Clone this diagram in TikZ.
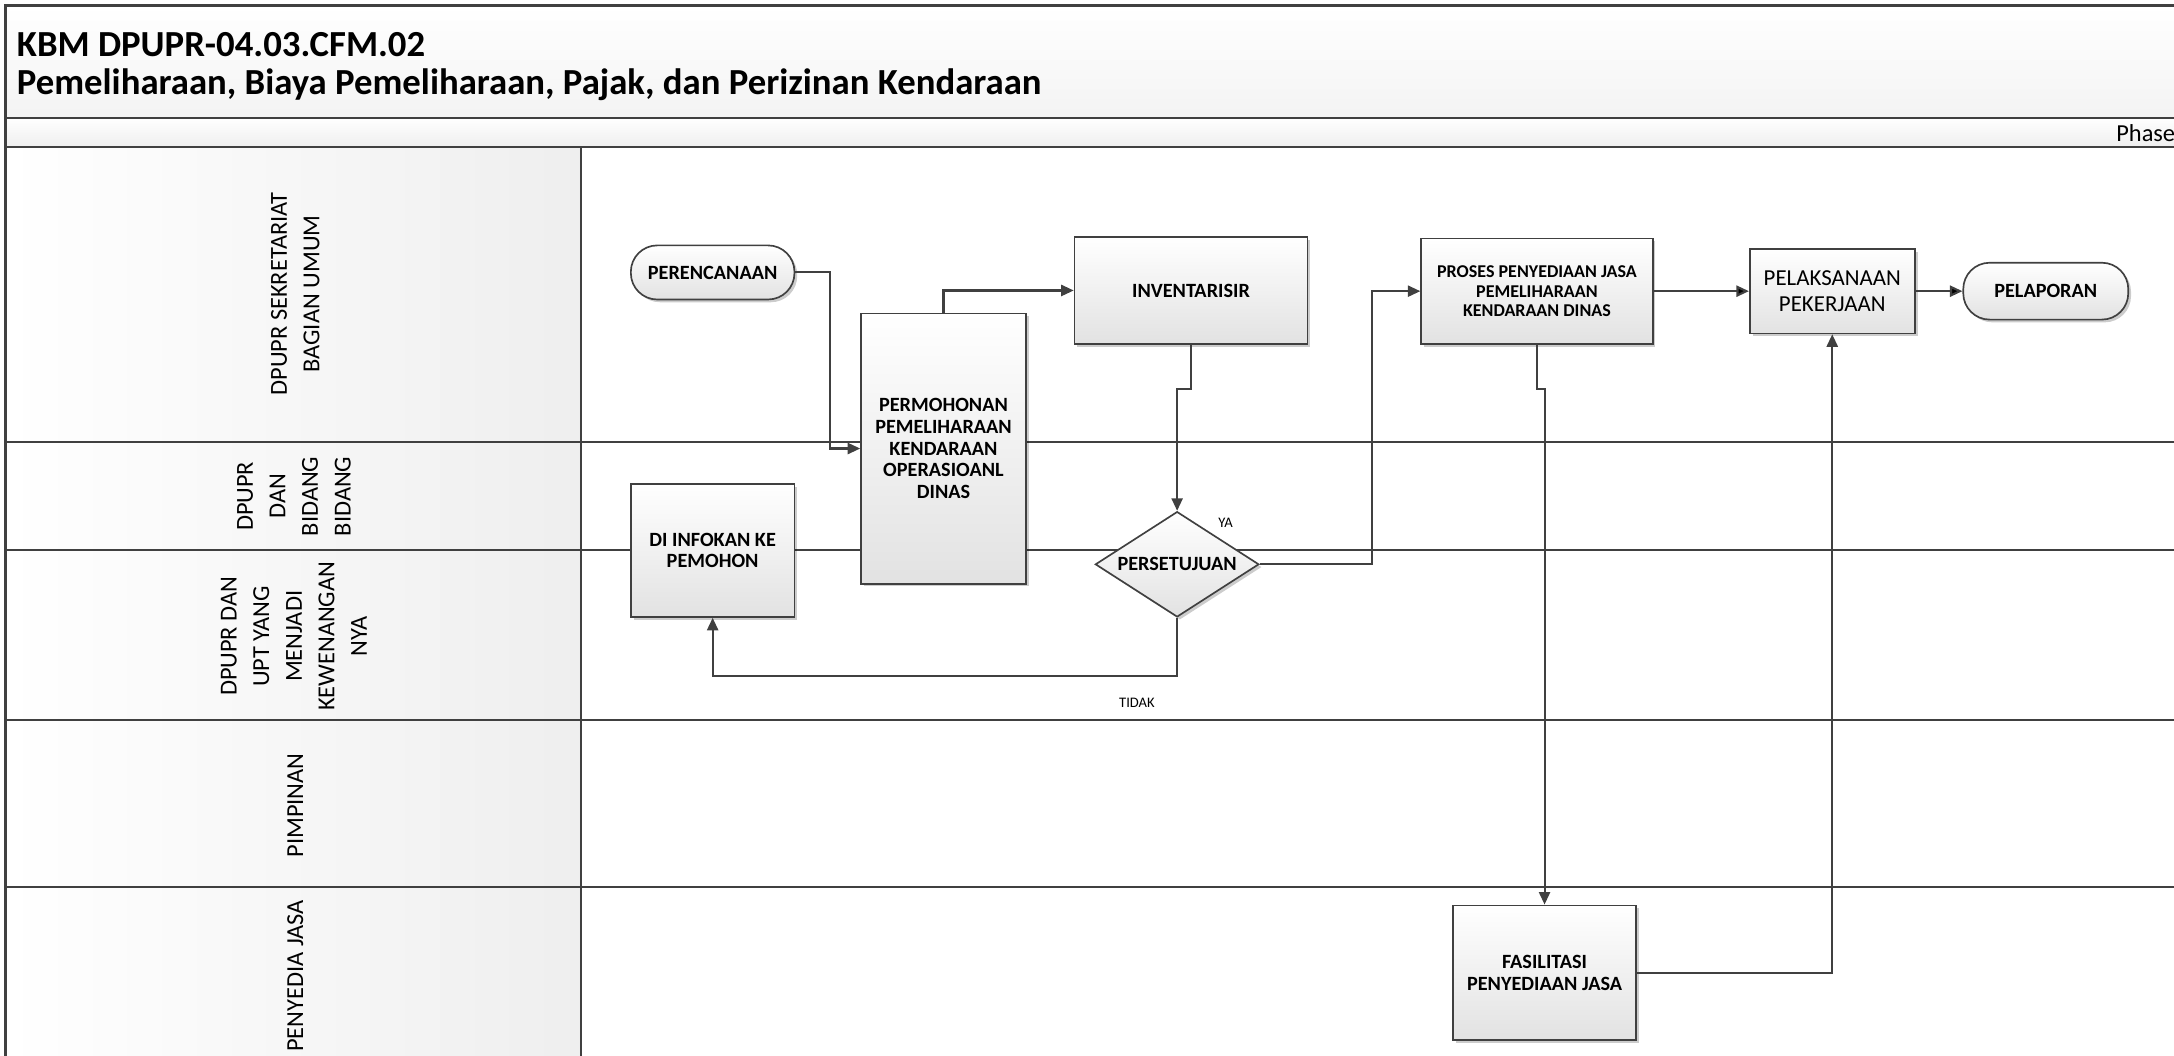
\documentclass[tikz,border=0pt]{standalone}
\usepackage{fontspec}
\setmainfont{Carlito}
\usetikzlibrary{shapes.geometric,shadows,arrows.meta,positioning}

\definecolor{linegray}{HTML}{404040}
\definecolor{boxgray}{HTML}{E2E2E2}
\newcommand{\titlefont}{\fontsize{26.5}{28}\selectfont\bfseries}
\newcommand{\lanefont}{\fontsize{17.6}{23.5}\selectfont}
\newcommand{\stepfont}{\fontsize{14.6}{15.7}\selectfont\bfseries}
\newcommand{\tightfont}{\fontsize{13}{14}\selectfont\bfseries}
\newcommand{\plainfont}{\fontsize{16.5}{19}\selectfont}
\newcommand{\tagfont}{\fontsize{10.5}{12}\selectfont}

\begin{document}
\begin{tikzpicture}[>={Triangle[length=9pt,width=8pt]}, x=1pt, y=-1pt]
    \tikzstyle{lane} = [draw=linegray, line width=1.5pt]
    \tikzstyle{lanehead} = [rotate=90, align=center, font=\lanefont, inner sep=0pt]
    \tikzstyle{format} = [draw=linegray, line width=1.2pt, rectangle,
	top color=white, bottom color=boxgray, align=center, font=\stepfont,
	inner sep=2pt, drop shadow={shadow xshift=2pt, shadow yshift=-2pt,
	fill=black, opacity=0.2}]
    \tikzstyle{terminal} = [format, rounded corners=19pt]
    \tikzstyle{decision} = [format, diamond, inner sep=0pt, aspect=1.55]
    \tikzstyle{flow} = [draw=linegray, line width=1.5pt, ->]
    \tikzstyle{tag} = [font=\tagfont, inner sep=0pt]

	\clip (0,0) rectangle (1568,761);
	\useasboundingbox (0,0) rectangle (1568,761);

	% pool header and lanes
	\path[top color=white, bottom color=gray!9] (4,4) rectangle (1580,85);
	\path[top color=white, bottom color=gray!13] (4,85) rectangle (1580,106);
	\path[left color=white, right color=gray!13] (4,106) rectangle (419,775);
	\draw[lane] (4,85) -- (1580,85);
	\draw[lane] (4,106) -- (1580,106);
	\foreach \y in {319,397,519,640}
		\draw[lane] (4,\y) -- (1580,\y);
	\draw[lane] (419,106) -- (419,775);
	\draw[draw=linegray, line width=2pt] (1580,4) -- (4,4) -- (4,775);

	\node[anchor=west, font=\titlefont, inner sep=0pt] (kode) at (12,32) {KBM DPUPR-04.03.CFM.02};
	\node[anchor=west, font=\titlefont, inner sep=0pt] (judul) at (12,61)
		{Pemeliharaan, Biaya Pemeliharaan, Pajak, dan Perizinan Kendaraan};
	\node[anchor=east, font=\lanefont, inner sep=0pt] (phase) at (1569,96) {Phase};

	\node[lanehead] (sekre) at (213,212) {DPUPR SEKRETARIAT\\BAGIAN UMUM};
	\node[lanehead] (bidang) at (212,358) {DPUPR\\DAN\\BIDANG\\BIDANG};
	\node[lanehead] (upt) at (212,459) {DPUPR DAN\\UPT YANG\\MENJADI\\KEWENANGAN\\NYA};
	\node[lanehead] (pimpinan) at (213,581) {PIMPINAN};
	\node[lanehead] (penyedia) at (213,704) {PENYEDIA JASA};

	% steps
	\path
		node[terminal, minimum width=118pt, minimum height=39pt] (renc) at (514,196.5) {PERENCANAAN}
		node[format, minimum width=119pt, minimum height=195pt] (mohon) at (680.5,323.5)
			{PERMOHONAN\\PEMELIHARAAN\\KENDARAAN\\OPERASIOANL\\DINAS}
		node[format, minimum width=168pt, minimum height=77pt] (inv) at (859,209.5) {INVENTARISIR}
		node[format, minimum width=118pt, minimum height=96pt] (info) at (514,397) {DI INFOKAN KE\\PEMOHON}
		node[decision, minimum width=118pt, minimum height=76pt] (setuju) at (849,407) {PERSETUJUAN}
		node[format, font=\tightfont, minimum width=167pt, minimum height=76pt] (proses) at (1108.5,210)
			{PROSES PENYEDIAAN JASA\\PEMELIHARAAN\\KENDARAAN DINAS}
		node[format, font=\plainfont, minimum width=119pt, minimum height=61pt,
			right of=proses, node distance=213pt] (laksana) {PELAKSANAAN\\PEKERJAAN}
		node[terminal, minimum width=119pt, minimum height=41pt,
			right of=laksana, node distance=154pt] (lapor) {PELAPORAN}
		node[format, minimum width=132pt, minimum height=97pt] (fasil) at (1114,701.5)
			{FASILITASI\\PENYEDIAAN JASA}
		;

	% connectors
	\draw[flow] (renc.east) -- ++(25,0) |- (mohon.west);
	\draw[flow] (mohon.north) |- (inv.west);
	\draw[flow] (inv.south) -- ++(0,32) -| (setuju.north);
	\draw[flow] (setuju.east) -- ++(81,0) |- (proses.west);
	\draw[flow] (setuju.south) -- ++(0,42) -| (info.south);
	\draw[flow] (proses.south) -- ++(0,32) -| (fasil.north);
	\draw[flow] (fasil.east) -| (laksana.south);
	\path[flow]
		(proses) edge (laksana)
		(laksana) edge (lapor);

	\node[tag] (ya) at (884,377) {YA};
	\node[tag] (tidak) at (820,507) {TIDAK};
\end{tikzpicture}
\end{document}
